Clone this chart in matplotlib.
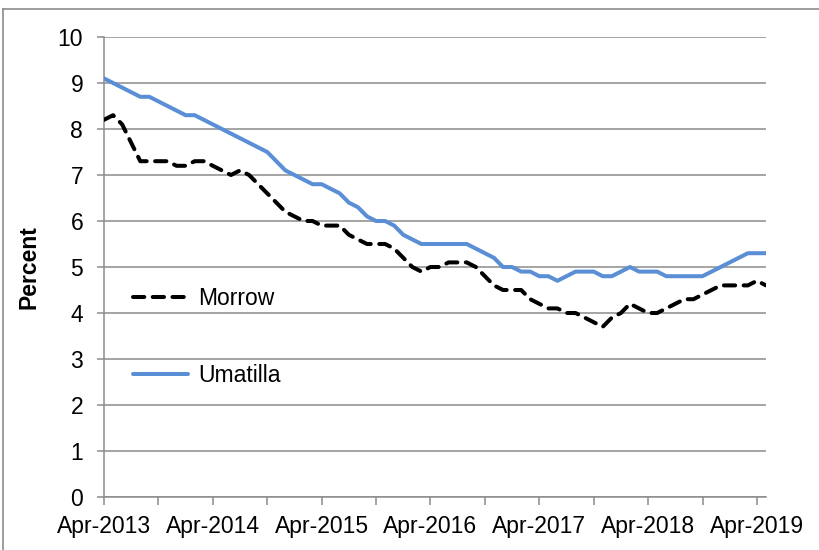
"""Unemployment rate, Morrow vs Umatilla, Apr-2013 to May-2019."""

import matplotlib

matplotlib.use("Agg")
import matplotlib.pyplot as plt
from matplotlib.lines import Line2D

plt.rcParams["font.family"] = ["Liberation Sans", "DejaVu Sans"]

# monthly values, Apr-2013 .. May-2019
months = list(range(74))
umatilla = [
    9.1, 9.0, 8.9, 8.8, 8.7, 8.7, 8.6, 8.5, 8.4, 8.3,
    8.3, 8.2, 8.1, 8.0, 7.9, 7.8, 7.7, 7.6, 7.5, 7.3,
    7.1, 7.0, 6.9, 6.8, 6.8, 6.7, 6.6, 6.4, 6.3, 6.1,
    6.0, 6.0, 5.9, 5.7, 5.6, 5.5, 5.5, 5.5, 5.5, 5.5,
    5.5, 5.4, 5.3, 5.2, 5.0, 5.0, 4.9, 4.9, 4.8, 4.8,
    4.7, 4.8, 4.9, 4.9, 4.9, 4.8, 4.8, 4.9, 5.0, 4.9,
    4.9, 4.9, 4.8, 4.8, 4.8, 4.8, 4.8, 4.9, 5.0, 5.1,
    5.2, 5.3, 5.3, 5.3,
]
morrow = [
    8.2, 8.3, 8.1, 7.7, 7.3, 7.3, 7.3, 7.3, 7.2, 7.2,
    7.3, 7.3, 7.2, 7.1, 7.0, 7.1, 7.0, 6.8, 6.6, 6.4,
    6.2, 6.1, 6.0, 6.0, 5.9, 5.9, 5.9, 5.7, 5.6, 5.5,
    5.5, 5.5, 5.4, 5.2, 5.0, 4.9, 5.0, 5.0, 5.1, 5.1,
    5.1, 5.0, 4.8, 4.6, 4.5, 4.5, 4.5, 4.3, 4.2, 4.1,
    4.1, 4.0, 4.0, 3.9, 3.8, 3.7, 3.9, 4.0, 4.2, 4.1,
    4.0, 4.0, 4.1, 4.2, 4.3, 4.3, 4.4, 4.5, 4.6, 4.6,
    4.6, 4.6, 4.7, 4.6,
]
year_ticks = [0, 12, 24, 36, 48, 60, 72]
year_labels = ["Apr-2013", "Apr-2014", "Apr-2015", "Apr-2016",
               "Apr-2017", "Apr-2018", "Apr-2019"]
half_ticks = [6, 18, 30, 42, 54, 66]

GRID = "#8c8c8c"
BLUE = "#5a8fd6"
FS = 16.5

fig = plt.figure(figsize=(8.2, 5.5), dpi=100)
ax = fig.add_axes([104 / 820, 53 / 550, 662 / 820, 460 / 550])

ax.plot(months, morrow, color="black", linewidth=2.9, dashes=(2.8, 2.1),
        dash_capstyle="round", label="Morrow", zorder=3)
ax.plot(months, umatilla, color=BLUE, linewidth=2.9,
        solid_capstyle="round", label="Umatilla", zorder=3)

ax.set_xlim(0, 73)
ax.set_ylim(0, 10)
ax.set_yticks(range(0, 11))
ax.set_xticks(year_ticks)
ax.set_xticklabels(year_labels)
ax.set_xticks(half_ticks, minor=True)

ax.grid(axis="y", color=GRID, linewidth=1.1)
ax.set_axisbelow(True)
for side in ["top", "right"]:
    ax.spines[side].set_visible(False)
for side in ["left", "bottom"]:
    ax.spines[side].set_color(GRID)
    ax.spines[side].set_linewidth(1.1)

ax.tick_params(axis="y", length=5, width=1.1, color=GRID, labelsize=FS, pad=10)
ax.tick_params(axis="x", which="both", length=6, width=1.1, color=GRID,
               labelsize=FS, pad=7)

ax.set_ylabel("Percent", fontsize=FS, fontweight="bold", labelpad=12)

ax.legend(loc="upper left", bbox_to_anchor=(0.044, 0.456), frameon=False,
          fontsize=FS, handlelength=2.4, handletextpad=0.45,
          labelspacing=2.33, borderpad=0, borderaxespad=0)

# chart-area border (left and top edges visible)
fig.add_artist(Line2D([3 / 820, 3 / 820], [0, 1 - 8.5 / 550],
                      transform=fig.transFigure, color=GRID, linewidth=1.2))
fig.add_artist(Line2D([3 / 820, 1], [1 - 8.5 / 550, 1 - 8.5 / 550],
                      transform=fig.transFigure, color=GRID, linewidth=1.2))

fig.savefig("out.png", dpi=100)
